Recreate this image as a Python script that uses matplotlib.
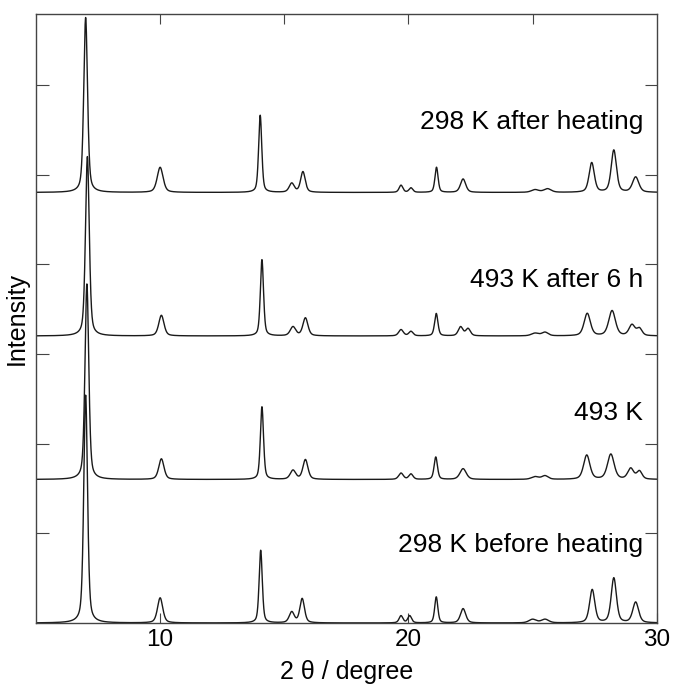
# Stacked powder XRD patterns, heating series
import numpy as np
import matplotlib.pyplot as plt

plt.rcParams['font.family'] = ['Liberation Sans', 'DejaVu Sans']

# Peak lists for each pattern: position (2 theta, deg), height, FWHM (deg)
labels = ['298 K before heating', '493 K', '493 K after 6 h', '298 K after heating']
offsets = [0.0, 1.6, 3.2, 4.8]

pos_298_before = [7.00, 10.00, 14.05, 15.30, 15.72, 19.70, 20.05, 21.12, 22.20, 25.00, 25.50, 27.40, 28.27, 29.15]
hgt_298_before = [2.54, 0.28, 0.81, 0.12, 0.27, 0.08, 0.08, 0.29, 0.16, 0.04, 0.04, 0.37, 0.50, 0.23]
fwhm_298_before = [0.18, 0.25, 0.15, 0.24, 0.22, 0.18, 0.18, 0.15, 0.25, 0.35, 0.35, 0.25, 0.25, 0.28]

pos_493 = [7.05, 10.05, 14.10, 15.35, 15.85, 19.70, 20.10, 21.10, 22.20, 25.10, 25.50, 27.18, 28.15, 28.95, 29.30]
hgt_493 = [2.18, 0.23, 0.81, 0.10, 0.22, 0.07, 0.06, 0.25, 0.12, 0.03, 0.04, 0.27, 0.28, 0.12, 0.09]
fwhm_493 = [0.18, 0.25, 0.15, 0.26, 0.24, 0.22, 0.20, 0.16, 0.30, 0.35, 0.30, 0.30, 0.32, 0.28, 0.25]

pos_493_6h = [7.07, 10.05, 14.10, 15.35, 15.85, 19.70, 20.10, 21.12, 22.10, 22.40, 25.10, 25.50, 27.20, 28.20, 29.00, 29.30]
hgt_493_6h = [2.00, 0.23, 0.85, 0.10, 0.20, 0.07, 0.05, 0.25, 0.10, 0.08, 0.03, 0.04, 0.25, 0.28, 0.12, 0.08]
fwhm_493_6h = [0.18, 0.25, 0.15, 0.26, 0.24, 0.22, 0.20, 0.16, 0.22, 0.22, 0.35, 0.30, 0.30, 0.32, 0.28, 0.25]

pos_298_after = [7.00, 10.00, 14.03, 15.30, 15.75, 19.70, 20.10, 21.13, 22.20, 25.10, 25.60, 27.38, 28.27, 29.15]
hgt_298_after = [1.95, 0.28, 0.86, 0.10, 0.23, 0.08, 0.05, 0.28, 0.15, 0.03, 0.04, 0.33, 0.47, 0.17]
fwhm_298_after = [0.18, 0.28, 0.15, 0.24, 0.22, 0.18, 0.18, 0.15, 0.25, 0.35, 0.35, 0.25, 0.25, 0.30]

peak_sets = [
    (pos_298_before, hgt_298_before, fwhm_298_before),
    (pos_493, hgt_493, fwhm_493),
    (pos_493_6h, hgt_493_6h, fwhm_493_6h),
    (pos_298_after, hgt_298_after, fwhm_298_after),
]


def pattern(tt, pos, hgt, fwhm, eta=0.45):
    # pseudo-Voigt sum of the listed reflections
    y = np.zeros_like(tt)
    for p, h, w in zip(pos, hgt, fwhm):
        g = np.exp(-4 * np.log(2) * ((tt - p) / w) ** 2)
        l = 1 / (1 + 4 * ((tt - p) / w) ** 2)
        y += h * (eta * l + (1 - eta) * g)
    return y


two_theta = np.linspace(5, 30, 5001)

fig = plt.figure(figsize=(6.75, 6.85), dpi=100)
ax = fig.add_axes([0.0533, 0.0905, 0.9197, 0.8891])

for (pos, hgt, fwhm), off in zip(peak_sets, offsets):
    ax.plot(two_theta, pattern(two_theta, pos, hgt, fwhm) + off, color='#1a1a1a', lw=1.0)

label_y = [0.87, 2.34, 3.82, 5.59]
for text, yy in zip(labels, label_y):
    ax.text(29.45, yy, text, ha='right', va='center', fontsize=19)

ax.set_xlim(5, 30)
ax.set_ylim(0, 6.79)
ax.set_xticks([10, 20, 30])
ax.set_yticks([1, 2, 3, 4, 5, 6])
ax.set_yticklabels([])
ax.tick_params(axis='x', direction='in', length=7, labelsize=17.5, color='#444', pad=4)
ax.tick_params(axis='y', direction='in', length=9, color='#444', right=True)

top = ax.secondary_xaxis('top')
top.set_xticks([10, 15, 20, 25])
top.set_xticklabels([])
top.tick_params(direction='in', length=7, color='#444')
top.spines['top'].set_visible(False)

for s in ax.spines.values():
    s.set_color('#444')
    s.set_linewidth(1.0)

ax.set_xlabel('2 θ / degree', fontsize=18, labelpad=7)
ax.set_ylabel('Intensity', fontsize=18, labelpad=2)

fig.savefig('out.png', dpi=100)
